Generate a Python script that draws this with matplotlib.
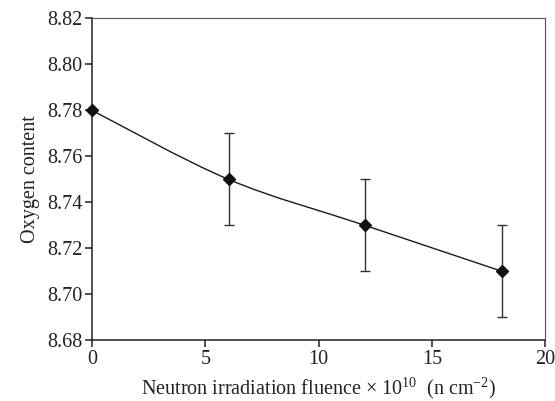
import matplotlib
matplotlib.use("Agg")
import matplotlib.pyplot as plt
import numpy as np
from matplotlib.path import Path
from matplotlib.patches import PathPatch

plt.rcParams["font.family"] = ["Liberation Serif", "DejaVu Serif"]
plt.rcParams["mathtext.fontset"] = "custom"
plt.rcParams["mathtext.rm"] = "Liberation Serif"
plt.rcParams["mathtext.it"] = "Liberation Serif:italic"

fluence = [0.0, 6.03, 12.06, 18.12]
oxygen = [8.78, 8.75, 8.73, 8.71]
err = [0.0, 0.02, 0.02, 0.02]
xticks = [0, 5, 10, 15, 20]
yticks = [8.68, 8.70, 8.72, 8.74, 8.76, 8.78, 8.80, 8.82]

fig = plt.figure(figsize=(5.55, 4.01), dpi=100)
ax = fig.add_axes([0.166, 0.151, 0.816, 0.803])

# smoothed connecting line (Catmull-Rom style Bezier through the data points)
pts = np.column_stack([fluence, oxygen])
verts = [pts[0]]
codes = [Path.MOVETO]
n = len(pts)
for i in range(n - 1):
    p0 = pts[max(i - 1, 0)]
    p1 = pts[i]
    p2 = pts[i + 1]
    p3 = pts[min(i + 2, n - 1)]
    c1 = p1 + (p2 - p0) / 6
    c2 = p2 - (p3 - p1) / 6
    verts += [c1, c2, p2]
    codes += [Path.CURVE4] * 3
ax.add_patch(PathPatch(Path(verts, codes), fill=False, color="#1a1a1a", lw=1.0))

ax.errorbar(fluence[1:], oxygen[1:], yerr=err[1:], fmt="none",
            ecolor="#333333", elinewidth=1.0, capsize=3.8, capthick=1.0)
ax.plot(fluence, oxygen, "D", color="#111111", markersize=6.3, clip_on=False, zorder=5)

ax.set_xlim(0, 20)
ax.set_ylim(8.68, 8.82)
ax.set_xticks(xticks)
ax.set_yticks(yticks)
ax.set_yticklabels([f"{v:.2f}" for v in yticks])
ax.tick_params(direction="out", length=5, width=1.1, labelsize=14.5, pad=2,
               top=False, right=False, color="#222222", labelcolor="#222222")
for s in ax.spines.values():
    s.set_linewidth(1.1)
    s.set_color("#222222")
for s in ["top", "right"]:
    ax.spines[s].set_linewidth(0.8)
    ax.spines[s].set_color("#555555")

ax.set_ylabel("Oxygen content", fontsize=14.5, color="#222222", labelpad=5)
ax.set_xlabel(r"Neutron irradiation fluence × 10$^{10}$  (n cm$^{-2}$)",
              fontsize=14.5, color="#222222", labelpad=5)

plt.savefig("out.png", dpi=100)
